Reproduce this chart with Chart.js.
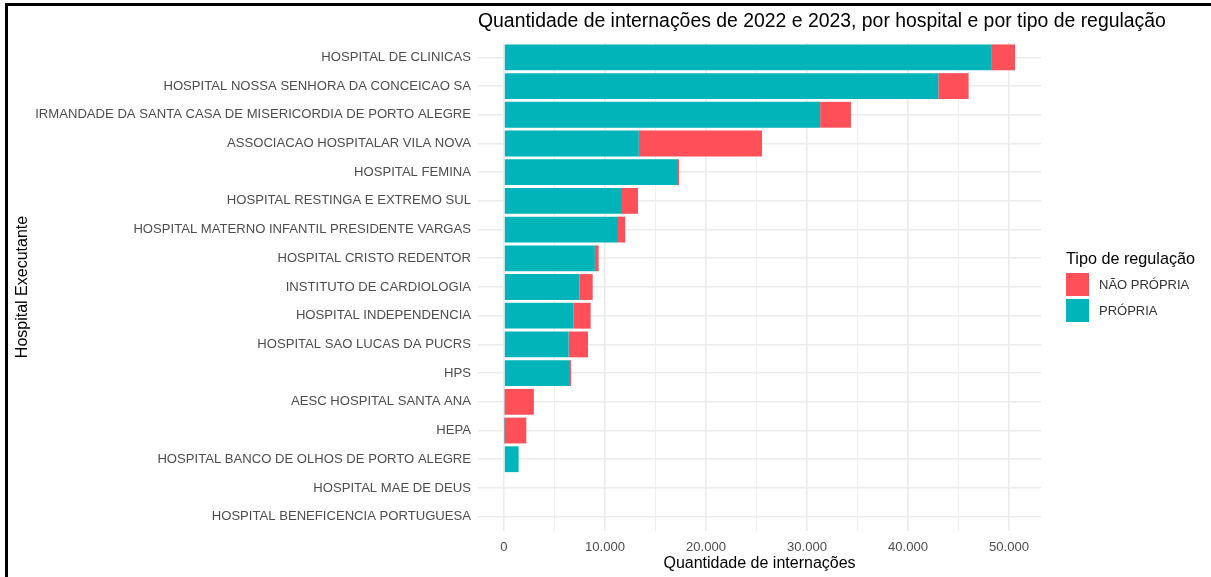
<!DOCTYPE html>
<html>
<head>
<meta charset="utf-8">
<script src="https://cdn.jsdelivr.net/npm/chart.js@4.4.1/dist/chart.umd.min.js"></script>
<style>
  html, body { margin: 0; padding: 0; background: #fff; }
  #wrap { position: relative; width: 1211px; height: 577px; overflow: hidden; font-family: "Liberation Sans", Arial, sans-serif; }
  #frame { position: absolute; left: 5px; top: 3px; width: 1300px; height: 700px; border-left: 3px solid #000; border-top: 3px solid #000; box-sizing: border-box; pointer-events: none; }
  #title { position: absolute; left: 478px; top: 9px; font-size: 19.4px; line-height: 22px; color: #000; white-space: nowrap; }
  #legend { position: absolute; left: 1066px; top: 248px; color: #000; }
  #legend .lt { font-size: 16.2px; line-height: 20px; margin-bottom: 5px; white-space: nowrap; }
  #legend .it { display: flex; align-items: center; height: 23px; margin-bottom: 3px; }
  #legend .sw { width: 23px; height: 23px; margin-right: 10px; }
  #legend .lb { font-size: 13px; color: #333; white-space: nowrap; }
  canvas { position: absolute; left: 0; top: 0; }
</style>
</head>
<body>
<div id="wrap">
  <canvas id="c" width="1211" height="577"></canvas>
  <div id="title">Quantidade de internações de 2022 e 2023, por hospital e por tipo de regulação</div>
  <div id="legend"></div>
  <div id="frame"></div>
</div>
<script>
const categories = [
  'HOSPITAL DE CLINICAS',
  'HOSPITAL NOSSA SENHORA DA CONCEICAO SA',
  'IRMANDADE DA SANTA CASA DE MISERICORDIA DE PORTO ALEGRE',
  'ASSOCIACAO HOSPITALAR VILA NOVA',
  'HOSPITAL FEMINA',
  'HOSPITAL RESTINGA E EXTREMO SUL',
  'HOSPITAL MATERNO INFANTIL PRESIDENTE VARGAS',
  'HOSPITAL CRISTO REDENTOR',
  'INSTITUTO DE CARDIOLOGIA',
  'HOSPITAL INDEPENDENCIA',
  'HOSPITAL SAO LUCAS DA PUCRS',
  'HPS',
  'AESC HOSPITAL SANTA ANA',
  'HEPA',
  'HOSPITAL BANCO DE OLHOS DE PORTO ALEGRE',
  'HOSPITAL MAE DE DEUS',
  'HOSPITAL BENEFICENCIA PORTUGUESA'
];
const propria =    [48300, 43000, 31300, 13350, 17130, 11680, 11290, 9000, 7460, 6900, 6400, 6530, 60, 40, 1450, 0, 0];
const naoPropria = [2300, 3000, 3050, 12200, 200, 1590, 710, 370, 1320, 1680, 1920, 100, 2900, 2170, 0, 0, 0];
const seriesNames = ['PRÓPRIA', 'NÃO PRÓPRIA'];
const seriesColors = ['#00B4B9', '#FF5059'];
const xTickValues = [0, 5000, 10000, 15000, 20000, 25000, 30000, 35000, 40000, 45000, 50000];
const xLabelStep = 10000;

function fmt(v) {
  return String(v).replace(/\B(?=(\d{3})+(?!\d))/g, '.');
}

// HTML legend (ordered as in the reference: NÃO PRÓPRIA first)
(function () {
  const lg = document.getElementById('legend');
  let html = '<div class="lt">Tipo de regulação</div>';
  for (let i = seriesNames.length - 1; i >= 0; i--) {
    html += '<div class="it"><div class="sw" style="background:' + seriesColors[i] + '"></div><div class="lb">' + seriesNames[i] + '</div></div>';
  }
  lg.innerHTML = html;
})();

const tickFont = { family: '"Liberation Sans", Arial, sans-serif', size: 13.1 };
const titleFont = { family: '"Liberation Sans", Arial, sans-serif', size: 16 };

new Chart(document.getElementById('c'), {
  type: 'bar',
  data: {
    labels: categories,
    datasets: [
      { label: seriesNames[0], data: propria, backgroundColor: seriesColors[0], borderWidth: 0, categoryPercentage: 0.9, barPercentage: 1.0 },
      { label: seriesNames[1], data: naoPropria, backgroundColor: seriesColors[1], borderWidth: 0, categoryPercentage: 0.9, barPercentage: 1.0 }
    ]
  },
  options: {
    indexAxis: 'y',
    responsive: false,
    animation: false,
    devicePixelRatio: 1,
    layout: { padding: { left: 6, top: 43, right: 170, bottom: 0 } },
    plugins: {
      legend: { display: false },
      title: { display: false },
      tooltip: { enabled: false }
    },
    scales: {
      x: {
        type: 'linear',
        stacked: true,
        min: -2574,
        max: 53169,
        afterBuildTicks: (s) => { s.ticks = xTickValues.map(v => ({ value: v })); },
        afterFit: (s) => { s.height = 46; },
        border: { display: false },
        grid: {
          color: '#EBEBEB',
          lineWidth: (ctx) => (ctx.tick && ctx.tick.value % xLabelStep === 0) ? 1.6 : 0.8,
          drawTicks: false
        },
        ticks: {
          autoSkip: false,
          maxRotation: 0,
          padding: 9,
          color: '#4D4D4D',
          font: tickFont,
          callback: (v) => (v % xLabelStep === 0 ? fmt(v) : '')
        },
        title: {
          display: true,
          text: 'Quantidade de internações',
          color: '#000',
          font: titleFont,
          padding: { top: 0, bottom: 4 }
        }
      },
      y: {
        stacked: true,
        afterFit: (s) => { s.width = 472; },
        border: { display: false },
        grid: { color: '#EBEBEB', lineWidth: 1.6, drawTicks: false, offset: false },
        ticks: { autoSkip: false, padding: 7, color: '#4D4D4D', font: tickFont },
        title: {
          display: true,
          text: 'Hospital Executante',
          color: '#000',
          font: titleFont,
          padding: { top: 7, bottom: 0 }
        }
      }
    }
  }
});
</script>
</body>
</html>
